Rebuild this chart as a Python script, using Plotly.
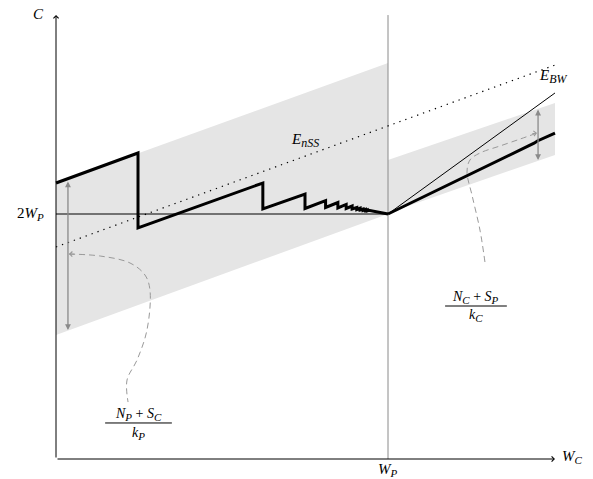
import plotly.graph_objects as go

# model units: W_P = 1 on the x axis, 2W_P = 2 on the y axis
W_P = 1.0
X_END = 1.503
Y_TOP = 3.624

# shaded bands (left: x < W_P, right: x > W_P)
band_left_x = [0.0, 1.0, 1.0, 0.0]
band_left_y = [2.253, 3.233, 2.0, 1.012]
band_right_x = [1.0, 1.503, 1.503, 1.0]
band_right_y = [2.441, 2.906, 2.482, 2.008]

# thick saw-tooth cost path for W_C < W_P
saw_x = [0.0, 0.247, 0.247, 0.623, 0.623, 0.750, 0.750, 0.812, 0.812, 0.849,
         0.849, 0.874, 0.874, 0.892, 0.892, 0.906, 0.906, 0.916, 0.916, 0.925,
         0.925, 0.932, 0.932, 0.937, 0.937, 0.942, 1.0]
saw_y = [2.253, 2.498, 1.886, 2.253, 2.041, 2.163, 2.045, 2.109, 2.053, 2.094,
         2.049, 2.078, 2.045, 2.065, 2.041, 2.053, 2.037, 2.047, 2.033, 2.041,
         2.030, 2.037, 2.028, 2.033, 2.025, 2.030, 2.0]

# thick path for W_C > W_P (with small steps)
right_x = [1.0, 1.30, 1.31, 1.38, 1.39, 1.44, 1.45, 1.503]
right_y = [2.0, 2.392, 2.405, 2.496, 2.512, 2.578, 2.596, 2.661]

# thin line 2*W_C and dotted E line
thin_x = [1.0, 1.503]
thin_y = [2.0, 2.988]
dot_x = [0.0, 1.503]
dot_y = [1.731, 3.216]

# dashed leader curves
lead_l_x = [0.039, 0.133, 0.223, 0.268, 0.283, 0.274, 0.244, 0.214, 0.217]
lead_l_y = [1.673, 1.657, 1.600, 1.502, 1.380, 1.053, 0.808, 0.645, 0.465]
lead_r_x = [1.292, 1.277, 1.253, 1.238, 1.247, 1.277, 1.337, 1.398, 1.449]
lead_r_y = [1.608, 1.869, 2.155, 2.343, 2.441, 2.498, 2.555, 2.612, 2.661]

FONT = "Liberation Serif, DejaVu Serif, serif"
GRAY = "#8a8a8a"
BAND = "#e5e5e5"

fig = go.Figure()

fig.add_trace(go.Scatter(x=band_left_x, y=band_left_y, fill="toself", fillcolor=BAND,
                         mode="none", hoverinfo="skip"))
fig.add_trace(go.Scatter(x=band_right_x, y=band_right_y, fill="toself", fillcolor=BAND,
                         mode="none", hoverinfo="skip"))

# W_P vertical and 2W_P horizontal
fig.add_trace(go.Scatter(x=[W_P, W_P], y=[0, Y_TOP], mode="lines",
                         line=dict(color=GRAY, width=1)))
fig.add_trace(go.Scatter(x=[0, W_P], y=[2, 2], mode="lines",
                         line=dict(color="black", width=1.1)))

fig.add_trace(go.Scatter(x=dot_x, y=dot_y, mode="lines",
                         line=dict(color="black", width=1.2, dash="1.3px,5px")))
fig.add_trace(go.Scatter(x=thin_x, y=thin_y, mode="lines",
                         line=dict(color="black", width=1)))

fig.add_trace(go.Scatter(x=saw_x, y=saw_y, mode="lines",
                         line=dict(color="black", width=3)))
fig.add_trace(go.Scatter(x=right_x, y=right_y, mode="lines",
                         line=dict(color="black", width=3)))

fig.add_trace(go.Scatter(x=lead_l_x, y=lead_l_y, mode="lines", line_shape="spline",
                         line=dict(color="#999999", width=1, dash="6px,4px")))
fig.add_trace(go.Scatter(x=lead_r_x, y=lead_r_y, mode="lines", line_shape="spline",
                         line=dict(color="#999999", width=1, dash="6px,4px")))


def arrow(x, y, ax, ay, color="black", width=1, head=4, size=1.0, side="end"):
    fig.add_annotation(x=x, y=y, ax=ax, ay=ay, xref="x", yref="y", axref="x", ayref="y",
                       text="", showarrow=True, arrowhead=head, startarrowhead=head,
                       arrowsize=size, startarrowsize=size, arrowwidth=width,
                       arrowcolor=color, arrowside=side)


# axes
arrow(X_END, 0, 0, 0)
arrow(0, Y_TOP, 0, 0)

# double arrows marking the band widths
arrow(0.036, 1.053, 0.036, 2.278, color=GRAY, width=1.3, head=2, size=0.9, side="end+start")
arrow(1.452, 2.441, 1.452, 2.865, color=GRAY, width=1.3, head=2, size=0.9, side="end+start")

# heads of the dashed leaders
arrow(0.039, 1.673, 0.060, 1.672, color="#999999", width=1, head=4, size=1.0)
arrow(1.449, 2.661, 1.430, 2.654, color="#999999", width=1, head=4, size=1.0)

# fraction bars
fig.add_shape(type="line", x0=0.148, x1=0.349, y0=0.294, y1=0.294, xref="x", yref="y",
              line=dict(color="black", width=1))
fig.add_shape(type="line", x0=1.172, x1=1.358, y0=1.249, y1=1.249, xref="x", yref="y",
              line=dict(color="black", width=1))


def sub(s, px=11):
    return "<sub><span style='font-size:%dpx'><i>%s</i></span></sub>" % (px, s)


def label(x, y, text, size=15, xanchor="center"):
    fig.add_annotation(x=x, y=y, xref="x", yref="y", text=text, showarrow=False,
                       xanchor=xanchor, yanchor="middle",
                       font=dict(family=FONT, size=size, color="black"))


label(-0.054, 3.63, "<i>C</i>")
label(-0.078, 2.0, "2<i>W</i>" + sub("P"))
label(1.0, -0.09, "<i>W</i>" + sub("P"))
label(1.555, 0.02, "<i>W</i>" + sub("C"))
label(0.75, 2.60, "<i>E</i>" + sub("nSS", 12))
label(1.50, 3.12, "<i>E</i>" + sub("BW", 12))

label(0.248, 0.36, "<i>N</i>" + sub("P") + " + <i>S</i>" + sub("C"), size=14)
label(0.248, 0.21, "<i>k</i>" + sub("P"), size=14)
label(1.265, 1.315, "<i>N</i>" + sub("C") + " + <i>S</i>" + sub("P"), size=14)
label(1.265, 1.17, "<i>k</i>" + sub("C"), size=14)

fig.update_xaxes(range=[-0.1687, 1.6175], visible=False)
fig.update_yaxes(range=[-0.1633, 3.747], visible=False)
fig.update_layout(width=593, height=479, margin=dict(l=0, r=0, t=0, b=0),
                  plot_bgcolor="white", paper_bgcolor="white", showlegend=False)

fig.write_html("out.html", config={"displayModeBar": False},
               post_script="document.body.style.margin='0';document.body.style.overflow='hidden';")
